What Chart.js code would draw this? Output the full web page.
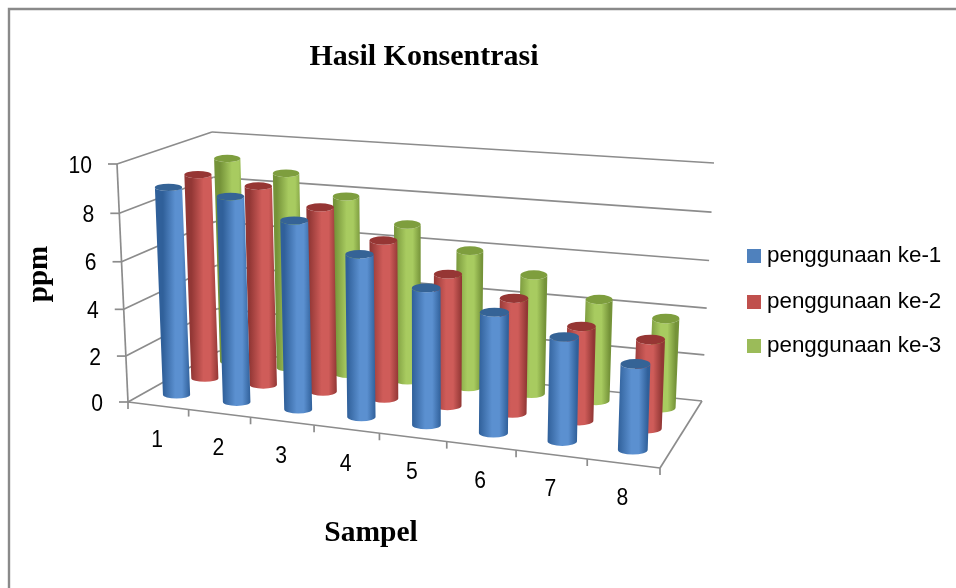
<!DOCTYPE html>
<html><head><meta charset="utf-8">
<style>html,body{margin:0;padding:0;background:#fff}canvas{display:block}</style>
<script src="https://cdn.jsdelivr.net/npm/chart.js@4"></script>
</head><body><canvas id="c" width="956" height="588"></canvas>
<script>
const categories = ['1','2','3','4','5','6','7','8'];
const seriesNames = ['penggunaan ke-1','penggunaan ke-2','penggunaan ke-3'];
const series1 = [8.9,8.8,8.1,7.0,5.9,5.2,4.5,3.7];
const series2 = [8.95,8.7,8.05,6.9,5.75,5.0,4.1,3.85];
const series3 = [9.15,8.7,7.9,6.9,6.0,5.2,4.4,3.85];
const yTicks = [0,2,4,6,8,10];
const titleText = 'Hasil Konsentrasi', xTitle = 'Sampel', yTitle = 'ppm';
const colors = ['#4F81BD','#C0504D','#9BBB59'];
const shades = [
 {edge:'#30609A',mid:'#5B90D0',top:'#356396'},
 {edge:'#923735',mid:'#CF5C59',top:'#963634'},
 {edge:'#759339',mid:'#A8CB60',top:'#7E9E3E'}];
const GRID='#8C8C8C';
// camera fit: [u,w,v, screenX, screenY]
const fit=[[0,0,0,128,402],[1,0,0,660,468],[1,1,0,702,401],[0,1,0,219,351],
 [0,0,1,117,164],[1,1,1,714,163],[0,1,1,212,132],[0,0,.5,122.5,283],
 [.125,0,0,188,411],[.375,0,0,313,428],[.625,0,0,515,455],[.875,0,0,587,463],
 [1/16,1/6,0,173,397],[15/16,1/6,0,632,450],[15/16,5/6,0,660,407],
 [1/16,1/6,.9,165.5,187],[15/16,1/6,.37,635.5,362],[1/16,1/2,.9,197,174],[15/16,5/6,.39,665,318]];
function solve(A,b){const n=b.length,M=A.map((r,i)=>[...r,b[i]]);
 for(let i=0;i<n;i++){let p=i;for(let r=i+1;r<n;r++)if(Math.abs(M[r][i])>Math.abs(M[p][i]))p=r;[M[i],M[p]]=[M[p],M[i]];
  for(let r=0;r<n;r++)if(r!==i){const f=M[r][i]/M[i][i];for(let c=i;c<=n;c++)M[r][c]-=f*M[i][c];}}
 return M.map((r,i)=>r[n]/r[i]);}
function fitCamera(){const rows=[],rhs=[];
 fit.forEach(([u,w,v,x,y])=>{
  rows.push([u,w,v,1,0,0,0,0,-x*u,-x*w,-x*v]);rhs.push(x);
  rows.push([0,0,0,0,u,w,v,1,-y*u,-y*w,-y*v]);rhs.push(y);});
 const N=Array.from({length:11},(_,i)=>Array.from({length:11},(_,j)=>rows.reduce((s,r)=>s+r[i]*r[j],0)));
 const d=Array.from({length:11},(_,i)=>rows.reduce((s,r,k)=>s+r[i]*rhs[k],0));
 return solve(N,d);}
const m=fitCamera();
function P0(u,w,v){const k=m[8]*u+m[9]*w+m[10]*v+1;return [(m[0]*u+m[1]*w+m[2]*v+m[3])/k,(m[4]*u+m[5]*w+m[6]*v+m[7])/k];}
// measured box corners: fitted camera is nudged so that these land exactly
const corners=[[0,0,0,128,402],[1,0,0,660,468],[1,1,0,702,401],[0,1,0,219,351],
 [0,0,1,117,164],[1,0,1,668,228],[1,1,1,714,163],[0,1,1,212,132]];
const resid=corners.map(([u,w,v,x,y])=>{const p=P0(u,w,v);return [u,w,v,x-p[0],y-p[1]];});
function P(u0,w,v){const u=u0-.011*Math.sin(Math.PI*u0);const p=P0(u,w,v);let dx=0,dy=0;
 resid.forEach(([a,b,c,rx,ry])=>{const k=(a?u:1-u)*(b?w:1-w)*(c?v:1-v);dx+=k*rx;dy+=k*ry;});
 return [p[0]+dx,p[1]+dy];}
function line(ctx,a,b){ctx.beginPath();ctx.moveTo(a[0],a[1]);ctx.lineTo(b[0],b[1]);ctx.stroke();}
function text(ctx,s,x,y,font,align,rot,sx){ctx.save();ctx.translate(x,y);if(rot)ctx.rotate(rot);if(sx)ctx.scale(sx,1);ctx.font=font;ctx.fillStyle='#000';ctx.textAlign=align||'center';ctx.textBaseline='middle';ctx.fillText(s,0,0);ctx.restore();}
const TICKFONT='24px "Liberation Sans"';
const perspective={id:'perspective',
 beforeDatasetsDraw(chart){
  const ctx=chart.ctx,xs=chart.scales.x,ys=chart.scales.y,area=chart.chartArea;
  const U=i=>(xs.getPixelForValue(i)-area.left)/area.width;
  const V=v=>(area.bottom-ys.getPixelForValue(v))/area.height;
  ctx.save();
  // frame
  ctx.strokeStyle='#8A8A8A';ctx.lineWidth=2.4;
  ctx.beginPath();ctx.moveTo(9,588);ctx.lineTo(9,9);ctx.lineTo(956,9);ctx.stroke();
  // walls
  ctx.strokeStyle=GRID;ctx.lineWidth=1.7;ctx.lineCap='butt';
  yTicks.forEach(t=>{const v=V(t);
    line(ctx,P(0,0,v),P(0,1,v));line(ctx,P(0,1,v),P(1,1,v));
    const p=P(0,0,v);line(ctx,[p[0]-9,p[1]],p);
    text(ctx,String(t),p[0]-25,p[1]+2,TICKFONT,'right',0,.88);
  });
  line(ctx,P(0,0,0),P(0,0,1));
  line(ctx,P(0,0,0),P(1,0,0));line(ctx,P(1,0,0),P(1,1,0));
  const n=categories.length;
  for(let i=0;i<=n;i++){const p=P(i/n,0,0);line(ctx,p,[p[0],p[1]+7]);}
  categories.forEach((c,i)=>{const p=P(U(i),0,0);text(ctx,c,p[0]-1,p[1]+35,TICKFONT,'center',0,.88);});
  // cylinders back to front
  const depth=[.19,1/2,5/6];
  for(let s=2;s>=0;s--){
    const meta=chart.getDatasetMeta(s);
    meta.data.forEach((el,i)=>{
      const u=U(i),b=P(u,depth[s],0),t=P(u,depth[s],(el.base-el.y)/area.height);
      const sh=shades[s],rx=13.5+u*(1.5-s*.5)-(s==2?.4:0),ry=3.6+u*1.4;
      const g=ctx.createLinearGradient(b[0]-rx,0,b[0]+rx,0);
      g.addColorStop(0,sh.edge);g.addColorStop(.45,sh.mid);g.addColorStop(.7,sh.mid);g.addColorStop(1,sh.edge);
      ctx.fillStyle=g;
      ctx.beginPath();
      ctx.moveTo(t[0]-rx,t[1]);ctx.lineTo(b[0]-rx,b[1]);
      ctx.ellipse(b[0],b[1],rx,ry,0,Math.PI,0,true);
      ctx.lineTo(t[0]+rx,t[1]);
      ctx.ellipse(t[0],t[1],rx,ry,0,0,Math.PI,false);
      ctx.closePath();ctx.fill();
      ctx.fillStyle=sh.top;
      ctx.beginPath();ctx.ellipse(t[0],t[1],rx,ry,0,0,Math.PI*2);ctx.fill();
    });
  }
  // text
  text(ctx,titleText,424,57,'bold 30px "Liberation Serif"');
  text(ctx,xTitle,371,533,'bold 29.5px "Liberation Serif"');
  text(ctx,yTitle,40,274,'bold 29px "Liberation Serif"','center',-Math.PI/2);
  seriesNames.forEach((nm,k)=>{const y=[249,295,339][k];
    ctx.fillStyle=colors[k];ctx.fillRect(747,y,14,14);
    text(ctx,nm,767,y+7,'22.4px "Liberation Sans"','left');});
  ctx.restore();
  return false;
 }};
new Chart(document.getElementById('c'),{
 type:'bar',
 data:{labels:categories,datasets:[series1,series2,series3].map((d,k)=>({label:seriesNames[k],data:d,backgroundColor:colors[k]}))},
 options:{responsive:false,animation:false,
  layout:{padding:{left:128,right:254,top:164,bottom:186}},
  plugins:{legend:{display:false},title:{display:false},tooltip:{enabled:false}},
  scales:{x:{display:false,type:'category'},y:{display:false,min:0,max:10,ticks:{stepSize:2}}}},
 plugins:[perspective]});
</script></body></html>
